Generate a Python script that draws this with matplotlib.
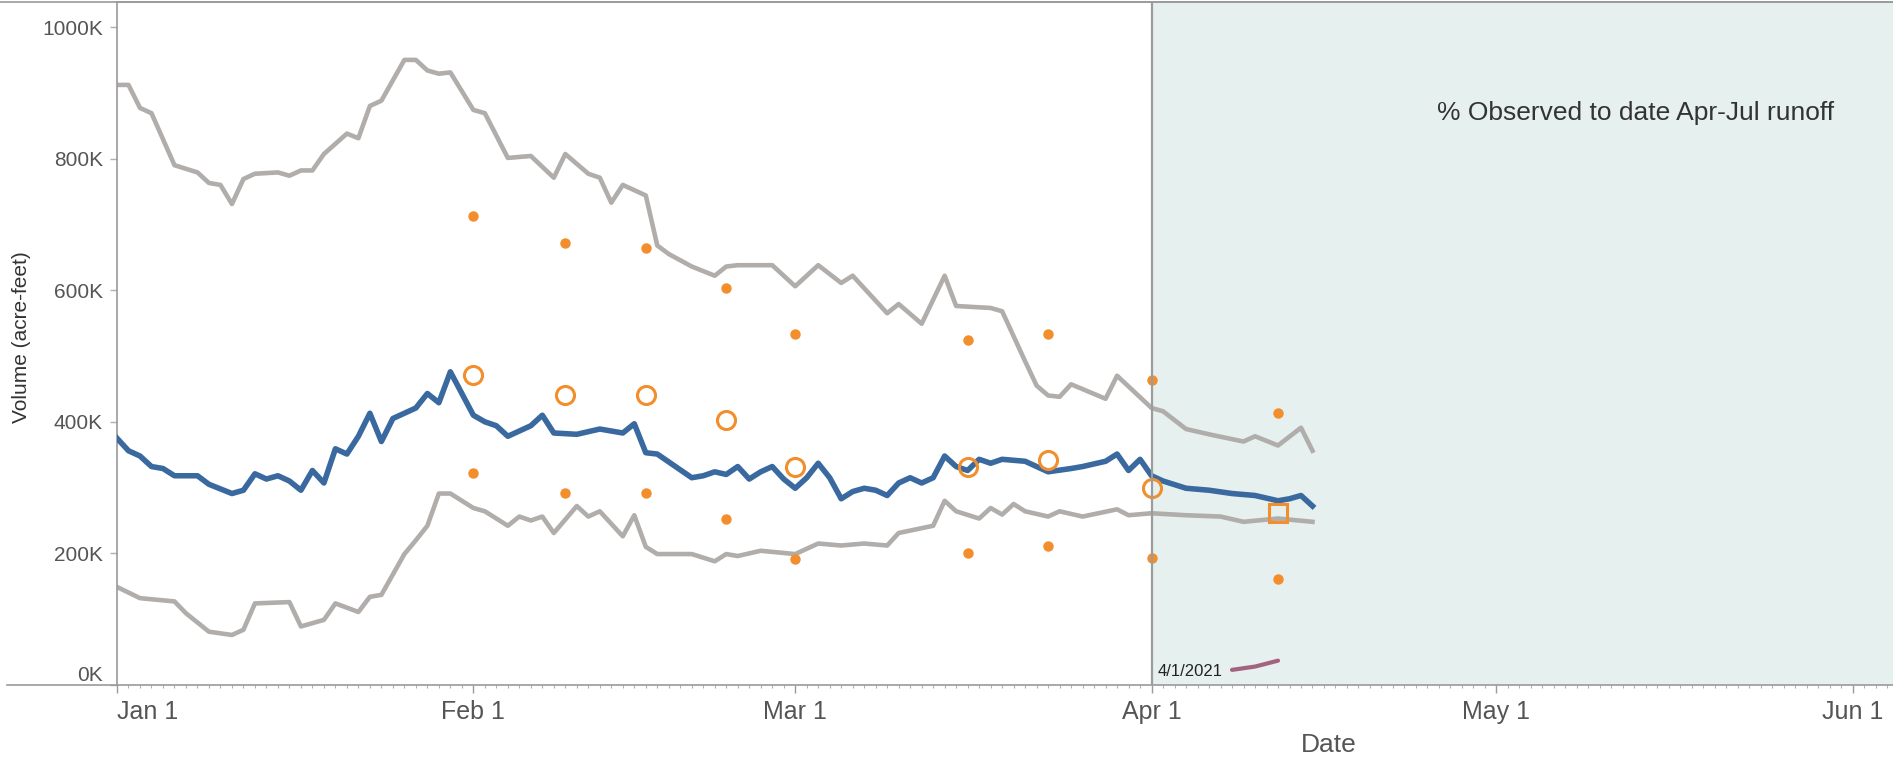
import numpy as np
import pandas as pd
import matplotlib
matplotlib.use('Agg')
import matplotlib.pyplot as plt
import matplotlib.dates as mdates
from matplotlib.ticker import FuncFormatter, FixedLocator
from matplotlib.lines import Line2D

plt.rcParams['font.family'] = ['Liberation Sans', 'DejaVu Sans']

# days counted from Jan 1 2021, volumes in thousand acre-feet
max_day = [0, 1, 2, 3, 5, 7, 8, 9, 10, 11, 12, 14, 15, 16, 17, 18, 20, 21, 22, 23, 25, 26, 27,
           28, 29, 31, 32, 34, 36, 38, 39, 41, 42, 43, 44, 46, 47, 48, 50, 52, 53, 54, 57, 59,
           61, 63, 64, 67, 68, 70, 72, 73, 76, 77, 79, 80, 81, 82, 83, 86, 87, 90, 91, 93, 95,
           98, 99, 101, 103, 104]
max_kaf = [912, 912, 877, 869, 790, 779, 763, 760, 731, 769, 777, 779, 774, 782, 782, 807, 838,
           831, 880, 888, 950, 950, 934, 929, 931, 874, 869, 801, 804, 771, 807, 777, 771, 733,
           760, 744, 668, 655, 636, 622, 636, 638, 638, 606, 638, 611, 622, 565, 579, 549, 622,
           576, 573, 568, 492, 455, 440, 438, 457, 435, 470, 421, 416, 389, 381, 370, 378, 364,
           391, 356]

cur_day = [0, 1, 2, 3, 4, 5, 7, 8, 10, 11, 12, 13, 14, 15, 16, 17, 18, 19, 20, 21, 22, 23, 24,
           25, 26, 27, 28, 29, 31, 32, 33, 34, 36, 37, 38, 40, 42, 44, 45, 46, 47, 50, 51, 52,
           53, 54, 55, 56, 57, 58, 59, 60, 61, 62, 63, 64, 65, 66, 67, 68, 69, 70, 71, 72, 73,
           74, 75, 76, 77, 79, 80, 81, 83, 84, 86, 87, 88, 89, 90, 91, 93, 95, 97, 99, 101, 102,
           103, 104]
cur_kaf = [375, 356, 348, 332, 329, 318, 318, 305, 291, 296, 321, 313, 318, 310, 296, 326, 307,
           359, 351, 378, 413, 370, 405, 413, 421, 443, 429, 476, 410, 400, 394, 378, 394, 410,
           383, 381, 389, 383, 397, 353, 351, 315, 318, 324, 320, 332, 313, 324, 332, 313, 299,
           315, 337, 315, 283, 294, 299, 296, 288, 307, 315, 307, 315, 348, 332, 326, 343, 337,
           343, 340, 332, 324, 329, 332, 340, 351, 326, 343, 318, 310, 299, 296, 291, 288, 280,
           283, 288, 272]

min_day = [0, 2, 5, 6, 8, 10, 11, 12, 15, 16, 18, 19, 21, 22, 23, 25, 26, 27, 28, 29, 31, 32,
           34, 35, 36, 37, 38, 40, 41, 42, 44, 45, 46, 47, 50, 52, 53, 54, 56, 59, 61, 63, 65,
           67, 68, 71, 72, 73, 75, 76, 77, 78, 79, 81, 82, 84, 87, 88, 90, 93, 96, 98, 101, 104]
min_kaf = [149, 132, 127, 109, 81, 76, 84, 124, 126, 89, 99, 124, 111, 134, 137, 199, 220, 242,
           291, 291, 269, 264, 242, 256, 250, 256, 231, 272, 256, 264, 226, 258, 210, 199, 199,
           188, 199, 196, 204, 199, 215, 212, 215, 212, 231, 242, 280, 264, 253, 269, 259, 275,
           264, 256, 264, 256, 267, 258, 261, 258, 256, 248, 253, 248]

fcst_day = [31, 39, 46, 53, 59, 74, 81, 90]
fcst_kaf = [471, 441, 441, 402, 332, 332, 342, 300]
fcst_hi_day = [31, 39, 46, 53, 59, 74, 81, 90, 101]
fcst_hi_kaf = [713, 672, 664, 604, 533, 524, 533, 463, 413]
fcst_lo_kaf = [322, 292, 292, 252, 191, 201, 211, 193, 161]
latest_day = [101]
latest_kaf = [261]

pct_day = [97, 99, 101]
pct_kaf = [23, 28, 37]

start = pd.Timestamp('2021-01-01')
split = pd.Timestamp('2021-04-01')


def dates(days):
    return start + pd.to_timedelta(days, unit='D')


def vol(kaf):
    return np.array(kaf) * 1000.0


W, H = 1893, 763
fig = plt.figure(figsize=(W / 100, H / 100), dpi=100)
ax = fig.add_axes([117 / W, 1 - 685 / H, 1 - 117 / W, (685 - 2) / H])

grey = '#b0adab'
blue = '#3a69a0'
orange = '#f28e2b'

ax.axvspan(split, start + pd.Timedelta(days=160), color='#e6f0ef', lw=0, zorder=0)

ax.plot(dates(max_day), vol(max_kaf), color=grey, lw=3.3, zorder=2, solid_joinstyle='round')
ax.plot(dates(min_day), vol(min_kaf), color=grey, lw=3.3, zorder=2, solid_joinstyle='round')
ax.plot(dates(cur_day), vol(cur_kaf), color=blue, lw=4.0, zorder=3, solid_joinstyle='round')
ax.plot(dates(pct_day), vol(pct_kaf), color='#a3637e', lw=3.0, zorder=3,
        solid_capstyle='round')

ax.plot(dates(fcst_hi_day), vol(fcst_hi_kaf), 'o', color=orange, ms=7.5, mec='none', zorder=4)
ax.plot(dates(fcst_hi_day), vol(fcst_lo_kaf), 'o', color=orange, ms=7.5, mec='none', zorder=4)
ax.plot(dates(fcst_day), vol(fcst_kaf), 'o', mfc='none', mec=orange, ms=13, mew=2.2, zorder=4)
ax.plot(dates(latest_day), vol(latest_kaf), 's', mfc='none', mec=orange, ms=13, mew=2.2,
        zorder=4)

ax.axvline(split, color='#9c9c9c', lw=1.6, zorder=5)

ax.set_xlim(mdates.date2num(start), mdates.date2num(start) + 154.5)
ax.set_ylim(0, 1038000)

ax.xaxis.set_major_locator(mdates.MonthLocator())
ax.xaxis.set_major_formatter(mdates.DateFormatter('%b %-d'))
ax.xaxis.set_minor_locator(mdates.DayLocator())
ax.yaxis.set_major_locator(FixedLocator([0, 200000, 400000, 600000, 800000, 1000000]))
ax.yaxis.set_major_formatter(FuncFormatter(lambda v, p: f'{int(round(v / 1000))}K'))

ax.tick_params(axis='x', which='major', length=6, width=1, color='#9a9a9a', pad=5,
               labelsize=18, labelcolor='#555555')
ax.tick_params(axis='x', which='minor', length=2.5, width=0.8, color='#b0b0b0')
ax.tick_params(axis='y', length=5, width=1, color='#b0b0b0', pad=5, labelsize=15,
               labelcolor='#555555')

ax.spines['right'].set_visible(False)
for side in ['left', 'bottom', 'top']:
    ax.spines[side].set_color('#9a9a9a')
    ax.spines[side].set_linewidth(1.2)

# first month label sits right of the axis, 0K sits above the baseline
ax.xaxis.get_major_ticks()[0].label1.set_horizontalalignment('left')
ax.yaxis.get_major_ticks()[0].label1.set_verticalalignment('bottom')

fig.add_artist(Line2D([0, 1], [1 - 2 / H, 1 - 2 / H], color='#9a9a9a', lw=1.2))
fig.add_artist(Line2D([7 / W, 117 / W], [1 - 685 / H, 1 - 685 / H], color='#9a9a9a', lw=1.2))

ax.text(split + pd.Timedelta(days=0.5), 21000, '4/1/2021', fontsize=12, color='#222222',
        ha='left', va='center', zorder=6)
fig.text(1437 / W, 1 - 113 / H, '% Observed to date Apr-Jul runoff', fontsize=19,
         color='#333333', ha='left', va='center')
fig.text(22 / W, 1 - 337 / H, 'Volume (acre-feet)', rotation=90, fontsize=15,
         color='#333333', ha='center', va='center')
fig.text(1329 / W, 1 - 745 / H, 'Date', fontsize=19, color='#555555', ha='center',
         va='center')

fig.savefig('out.png', dpi=100)
